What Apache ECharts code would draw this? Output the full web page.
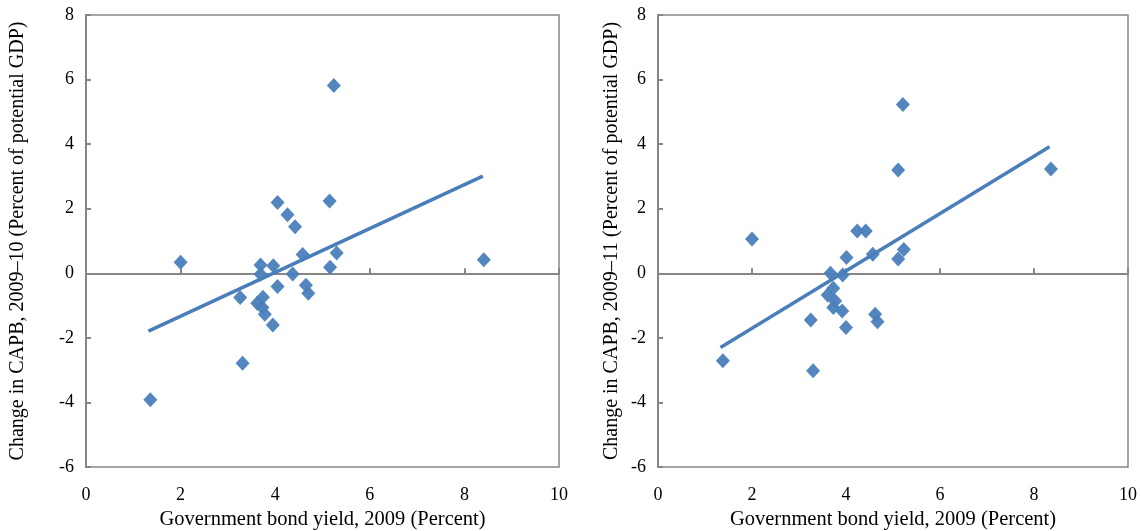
<!DOCTYPE html>
<html>
<head>
<meta charset="utf-8">
<script src="https://cdn.jsdelivr.net/npm/echarts@6/dist/echarts.min.js"></script>
<style>
  html, body { margin: 0; padding: 0; background: #fff; }
  #chart { width: 1141px; height: 531px; }
</style>
</head>
<body>
<div id="chart"></div>
<script>
// Government bond yield, 2009 (percent) vs change in CAPB (percent of potential GDP)
const yield2010 = [1.36, 2.00, 3.26, 3.31, 3.62, 3.69, 3.69, 3.73, 3.74, 3.78, 3.95, 3.96, 4.05, 4.05, 4.26, 4.37, 4.42, 4.58, 4.65, 4.70, 5.15, 5.16, 5.24, 5.30, 8.41];
const capb2010  = [-3.92, 0.34, -0.75, -2.79, -0.93, 0.26, -0.03, -1.06, -0.74, -1.27, -1.60, 0.23, 2.19, -0.41, 1.81, -0.02, 1.44, 0.58, -0.37, -0.62, 2.24, 0.19, 5.82, 0.63, 0.42];

const yield2011 = [1.38, 2.00, 3.25, 3.30, 3.61, 3.67, 3.73, 3.77, 3.73, 3.92, 3.93, 4.00, 4.01, 4.24, 4.42, 4.57, 4.62, 4.67, 5.11, 5.11, 5.21, 5.23, 8.36];
const capb2011  = [-2.71, 1.06, -1.45, -3.02, -0.67, 0.00, -0.46, -0.86, -1.06, -1.17, -0.05, -1.68, 0.49, 1.31, 1.31, 0.59, -1.27, -1.50, 0.44, 3.20, 5.23, 0.74, 3.23];

// Linear trend lines (end points)
const trend2010X = [1.32, 8.39];
const trend2010Y = [-1.79, 3.01];
const trend2011X = [1.33, 8.33];
const trend2011Y = [-2.30, 3.92];

const xTicks = { min: 0, max: 10, interval: 2 };
const yTicks = { min: -6, max: 8, interval: 2 };

const xTitle = 'Government bond yield, 2009 (Percent)';
const yTitle2010 = 'Change in CAPB, 2009\u201310 (Percent of potential GDP)';
const yTitle2011 = 'Change in CAPB, 2009\u201311 (Percent of potential GDP)';

const FONT = 'Liberation Serif';
const GRAY = '#868686';
const BLUE = '#4a7ebb';

const pairs = (xs, ys) => xs.map((x, i) => [x, ys[i]]);

const chart = echarts.init(document.getElementById('chart'), null, { renderer: 'canvas' });

const grids = [
  { left: 86, top: 15, width: 473, height: 452, outerBoundsMode: 'none', containLabel: false,
    show: true, borderColor: GRAY, borderWidth: 1.5, backgroundColor: 'transparent' },
  { left: 658, top: 15, width: 470, height: 452, outerBoundsMode: 'none', containLabel: false,
    show: true, borderColor: GRAY, borderWidth: 1.5, backgroundColor: 'transparent' }
];

function xAxesFor(gi) {
  return [
    // axis line through zero with upward ticks
    {
      type: 'value', gridIndex: gi, position: 'bottom', ...xTicks,
      axisLine: { show: true, onZero: true, lineStyle: { color: GRAY, width: 2 } },
      axisTick: { show: true, inside: true, length: 5, lineStyle: { color: GRAY, width: 2 } },
      axisLabel: { show: false }, splitLine: { show: false }
    },
    // labels and title along the bottom edge
    {
      type: 'value', gridIndex: gi, position: 'bottom', ...xTicks,
      axisLine: { show: false, onZero: false }, axisTick: { show: false }, splitLine: { show: false },
      axisLabel: { show: true, margin: 19, color: '#000', fontFamily: FONT, fontSize: 18 },
      name: xTitle, nameLocation: 'middle', nameGap: 41,
      nameTextStyle: { color: '#000', fontFamily: FONT, fontSize: 20.5 }
    }
  ];
}

function yAxisFor(gi, title, gap) {
  return {
    type: 'value', gridIndex: gi, ...yTicks,
    axisLine: { show: true, onZero: false, lineStyle: { color: GRAY, width: 2 } },
    axisTick: { show: true, inside: true, length: 5, lineStyle: { color: GRAY, width: 2 } },
    axisLabel: { color: '#000', fontFamily: FONT, fontSize: 18, margin: 12 },
    splitLine: { show: false },
    name: title, nameLocation: 'middle', nameGap: gap, nameRotate: 90,
    nameTextStyle: { color: '#000', fontFamily: FONT, fontSize: 20 }
  };
}

function scatter(xi, yi, data) {
  return {
    type: 'scatter', xAxisIndex: xi, yAxisIndex: yi, data,
    symbol: 'diamond', symbolSize: [14, 15],
    itemStyle: { color: BLUE, opacity: 0.95 }, z: 2, silent: true
  };
}

function trend(xi, yi, xs, ys) {
  return {
    type: 'line', xAxisIndex: xi, yAxisIndex: yi, data: pairs(xs, ys),
    showSymbol: false, symbol: 'none',
    lineStyle: { color: BLUE, width: 3.5 }, z: 3, silent: true
  };
}

chart.setOption({
  animation: false,
  backgroundColor: '#fff',
  grid: grids,
  xAxis: [...xAxesFor(0), ...xAxesFor(1)],
  yAxis: [yAxisFor(0, yTitle2010, 58), yAxisFor(1, yTitle2011, 36)],
  series: [
    scatter(0, 0, pairs(yield2010, capb2010)),
    trend(0, 0, trend2010X, trend2010Y),
    scatter(2, 1, pairs(yield2011, capb2011)),
    trend(2, 1, trend2011X, trend2011Y)
  ]
});
</script>
</body>
</html>
